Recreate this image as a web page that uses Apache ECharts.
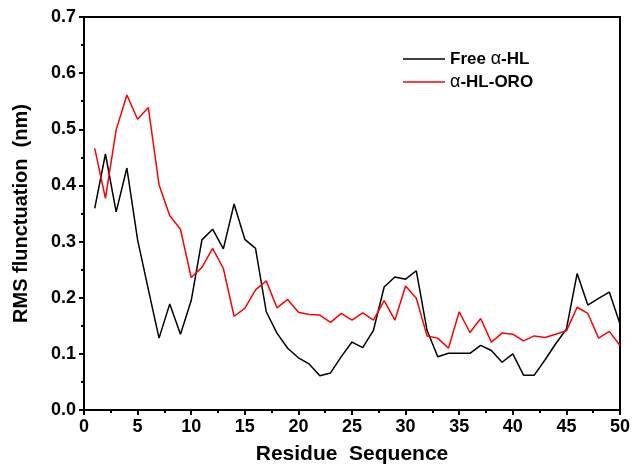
<!DOCTYPE html>
<html>
<head>
<meta charset="utf-8">
<script src="https://cdn.jsdelivr.net/npm/echarts@6/dist/echarts.min.js"></script>
<style>
  html, body { margin: 0; padding: 0; background: #fff; }
  #chart { width: 638px; height: 465px; }
</style>
</head>
<body>
<div id="chart"></div>
<script>
// residue index 1..50
const residues = [
  1, 2, 3, 4, 5, 6, 7, 8, 9, 10,
  11, 12, 13, 14, 15, 16, 17, 18, 19, 20,
  21, 22, 23, 24, 25, 26, 27, 28, 29, 30,
  31, 32, 33, 34, 35, 36, 37, 38, 39, 40,
  41, 42, 43, 44, 45, 46, 47, 48, 49, 50
]
// Free α-HL
const freeHL = [
  0.359, 0.456, 0.353, 0.431, 0.303, 0.215, 0.128, 0.189, 0.135, 0.195,
  0.303, 0.322, 0.287, 0.367, 0.304, 0.288, 0.175, 0.137, 0.110, 0.093,
  0.082, 0.061, 0.066, 0.095, 0.121, 0.111, 0.142, 0.219, 0.237, 0.233,
  0.248, 0.142, 0.095, 0.101, 0.101, 0.101, 0.115, 0.106, 0.085, 0.100,
  0.062, 0.062, 0.089, 0.118, 0.144, 0.243, 0.187, 0.199, 0.210, 0.153
]
// α-HL-ORO
const hlOro = [
  0.466, 0.377, 0.499, 0.561, 0.518, 0.539, 0.401, 0.346, 0.322, 0.236,
  0.254, 0.288, 0.252, 0.167, 0.181, 0.214, 0.230, 0.182, 0.197, 0.174,
  0.170, 0.169, 0.156, 0.172, 0.160, 0.173, 0.160, 0.195, 0.160, 0.221,
  0.199, 0.132, 0.128, 0.110, 0.175, 0.138, 0.163, 0.121, 0.137, 0.135,
  0.123, 0.132, 0.129, 0.135, 0.141, 0.183, 0.172, 0.128, 0.140, 0.115
]

function pairs (xs, ys) {
  let out = []
  for (let i = 0; i < xs.length; i++) {
    out.push([xs[i], ys[i]])
  }
  return out
}

const font = 'Liberation Sans, Arial, sans-serif'
const chart = echarts.init(document.getElementById('chart'))
chart.setOption({
  animation: false,
  grid: {
    left: 84, right: 18, top: 17, bottom: 55,
    outerBoundsMode: 'none', containLabel: false,
    show: true, borderColor: '#000', borderWidth: 2
  },
  legend: {
    orient: 'vertical',
    left: 398, top: 45,
    itemWidth: 42, itemHeight: 10, itemGap: 5,
    icon: 'path://M0,4 L42,4 L42,5.5 L0,5.5 Z',
    data: ['Free α-HL', 'α-HL-ORO'],
    formatter: function (name) {
      if (name === 'Free α-HL') return '{b|Free }{a|α}{b|-HL}'
      return '{a|α}{b|-HL-ORO}'
    },
    textStyle: {
      rich: {
        a: { fontFamily: font, fontSize: 18, color: '#000' },
        b: { fontFamily: font, fontSize: 17, fontWeight: 'bold', color: '#000' }
      }
    }
  },
  xAxis: {
    type: 'value', min: 0, max: 50, interval: 5,
    name: 'Residue  Sequence', nameLocation: 'middle', nameGap: 34,
    nameTextStyle: { fontFamily: font, fontSize: 21, fontWeight: 'bold', color: '#000' },
    axisLine: { lineStyle: { color: '#000', width: 2 } },
    axisTick: { inside: false, length: 5, lineStyle: { width: 2 } },
    minorTick: { show: true, splitNumber: 2, length: 3, lineStyle: { color: '#000', width: 2 } },
    splitLine: { show: false },
    axisLabel: { fontFamily: font, fontSize: 18, fontWeight: 'bold', color: '#000', margin: 8 }
  },
  yAxis: {
    type: 'value', min: 0, max: 0.7, interval: 0.1,
    name: 'RMS flunctuation  (nm)', nameLocation: 'middle', nameGap: 53, nameRotate: 90,
    nameTextStyle: { fontFamily: font, fontSize: 20, fontWeight: 'bold', color: '#000' },
    axisLine: { lineStyle: { color: '#000', width: 2 } },
    axisTick: { inside: false, length: 5, lineStyle: { width: 2 } },
    minorTick: { show: true, splitNumber: 2, length: 3, lineStyle: { color: '#000', width: 2 } },
    splitLine: { show: false },
    axisLabel: {
      fontFamily: font, fontSize: 18, fontWeight: 'bold', color: '#000', margin: 8,
      formatter: function (v) { return v.toFixed(1) }
    }
  },
  series: [
    {
      name: 'Free α-HL', type: 'line', data: pairs(residues, freeHL),
      showSymbol: false, symbol: 'none',
      lineStyle: { color: '#000', width: 1.5 }, itemStyle: { color: '#000' }
    },
    {
      name: 'α-HL-ORO', type: 'line', data: pairs(residues, hlOro),
      showSymbol: false, symbol: 'none',
      lineStyle: { color: '#ff0000', width: 1.5 }, itemStyle: { color: '#ff0000' }
    }
  ]
})
</script>
</body>
</html>
